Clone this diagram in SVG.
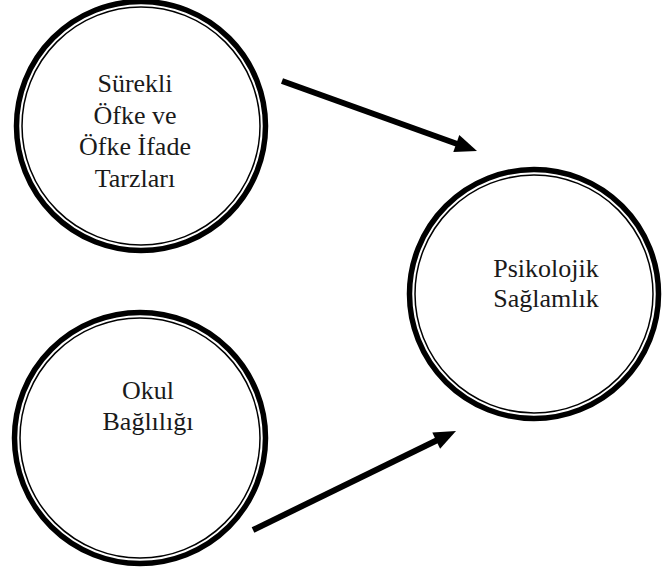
<svg xmlns="http://www.w3.org/2000/svg" width="662" height="568" viewBox="0 0 662 568">
<style>
.outer{fill:#fff;stroke:#000;stroke-width:5.5}
.inner{fill:none;stroke:#000;stroke-width:1.5}
.lbl{font-family:"Liberation Serif","Times New Roman",serif;font-size:26px;fill:#1a1a1a;text-anchor:middle}
.conn{stroke:#000;stroke-width:6;fill:none}
.head{fill:#000}
</style>
<g id="node-surekli">
<circle class="outer" cx="141" cy="126" r="124.5"/>
<circle class="inner" cx="141" cy="126" r="119"/>
<text class="lbl" x="135" y="92">Sürekli</text>
<text class="lbl" x="135" y="123.5">Öfke ve</text>
<text class="lbl" x="135" y="155">Öfke İfade</text>
<text class="lbl" x="135" y="187">Tarzları</text>
</g>
<g id="node-okul">
<circle class="outer" cx="140" cy="438" r="125.5"/>
<circle class="inner" cx="140" cy="438" r="120"/>
<text class="lbl" x="148" y="399">Okul</text>
<text class="lbl" x="148" y="430">Bağlılığı</text>
</g>
<g id="node-psikolojik">
<circle class="outer" cx="534" cy="294" r="124.5"/>
<circle class="inner" cx="534" cy="294" r="119"/>
<text class="lbl" x="546" y="277">Psikolojik</text>
<text class="lbl" x="546" y="307">Sağlamlık</text>
</g>
<g id="connectors">
<line class="conn" x1="282" y1="81" x2="458" y2="144.2"/>
<polygon class="head" points="477,151 453.3,152.1 459.3,135.1"/>
<line class="conn" x1="253" y1="530" x2="438" y2="439.8"/>
<polygon class="head" points="456,431 440.1,448.7 432.3,432.5"/>
</g>
</svg>
